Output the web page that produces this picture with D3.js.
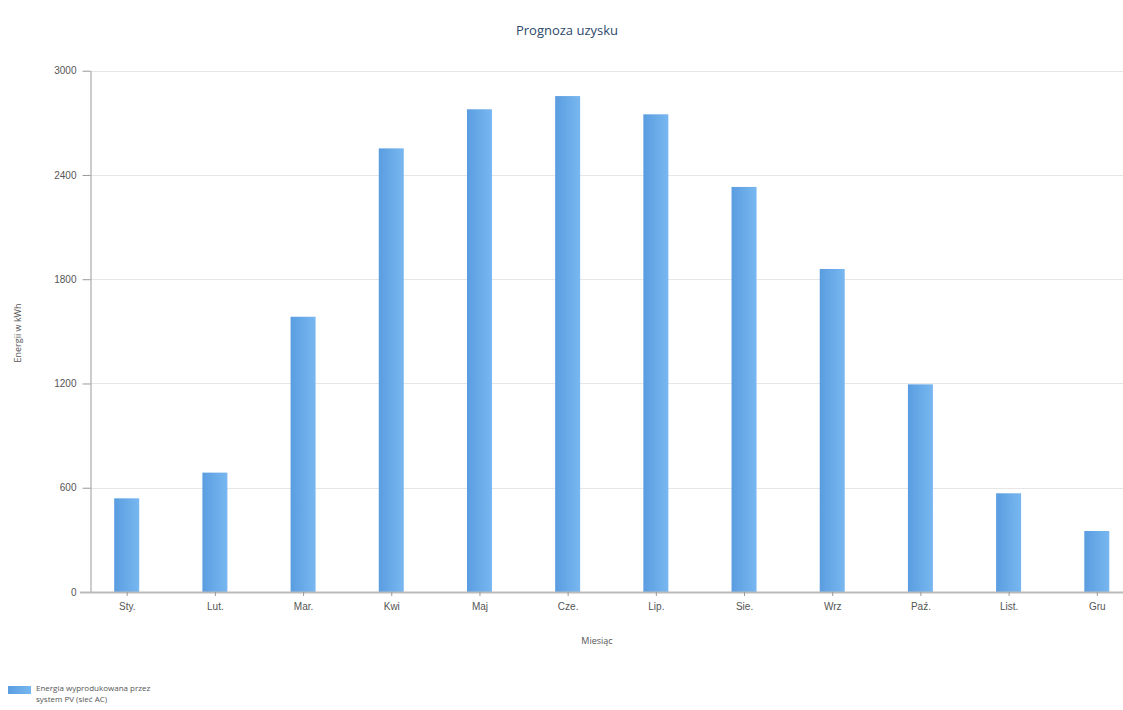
<!DOCTYPE html>
<html lang="pl">
<head>
<meta charset="UTF-8">
<title>Prognoza uzysku</title>
<style>
  * { margin: 0; padding: 0; }
  body { background: #fff; width: 1123px; height: 710px; overflow: hidden; font-family: "Open Sans", "DejaVu Sans", sans-serif; }
  svg { display: block; }
  .tick text { fill: #555; font-size: 10px; }
  .grid line { stroke: #e6e6e6; }
</style>
</head>
<body>
<svg id="chart" width="1123" height="710"></svg>
<script src="https://d3js.org/d3.v7.min.js"></script>
<script>
// Data
const months = ['Sty.', 'Lut.', 'Mar.', 'Kwi', 'Maj', 'Cze.', 'Lip.', 'Sie.', 'Wrz', 'Paź.', 'List.', 'Gru'];
const energy = [539, 687, 1584, 2553, 2778, 2854, 2749, 2331, 1859, 1195, 568, 351];
const yTicks = [0, 600, 1200, 1800, 2400, 3000];

const svg = d3.select('#chart');

// Layout
const axisX = 90.5, plotTop = 70.7, plotBottom = 592, plotRight = 1123;
const barW = 25;

const x = d3.scalePoint().domain(months).range([126.7, 1096.8]);
const y = d3.scaleLinear().domain([0, 3000]).range([plotBottom, plotTop]);

// gradient for bars (darker left, lighter right)
const grad = svg.append('defs').append('linearGradient')
  .attr('id', 'barGrad').attr('x1', '0%').attr('x2', '100%');
grad.append('stop').attr('offset', '0%').attr('stop-color', '#5a9de0');
grad.append('stop').attr('offset', '100%').attr('stop-color', '#78b7f0');

// Title
svg.append('text')
  .attr('x', 567).attr('y', 35)
  .attr('text-anchor', 'middle')
  .attr('font-size', 13).attr('fill', '#2b4a6b')
  .text('Prognoza uzysku');

// Gridlines
svg.append('g').attr('class', 'grid')
  .selectAll('line').data(yTicks.filter(t => t > 0)).join('line')
  .attr('x1', axisX).attr('x2', plotRight)
  .attr('y1', d => Math.round(y(d)) + 0.5).attr('y2', d => Math.round(y(d)) + 0.5);

// Bars
svg.append('g').selectAll('rect')
  .data(energy).join('rect')
  .attr('x', (d, i) => x(months[i]) - barW / 2)
  .attr('y', d => y(d))
  .attr('width', barW)
  .attr('height', d => plotBottom - y(d))
  .attr('fill', 'url(#barGrad)');

// Y axis
const yAxis = svg.append('g')
  .attr('transform', `translate(${axisX},0)`)
  .call(d3.axisLeft(y).tickValues(yTicks).tickFormat(d3.format('d'))
    .tickSize(8).tickPadding(6).tickSizeOuter(0));
yAxis.select('.domain').attr('stroke', '#999');
yAxis.selectAll('.tick line').attr('stroke', '#999');

// X axis
const xAxis = svg.append('g')
  .attr('transform', `translate(0,${plotBottom})`)
  .call(d3.axisBottom(x).tickSize(4).tickPadding(7).tickSizeOuter(0));
xAxis.select('.domain').attr('d', `M80,0.5H${plotRight}`).attr('stroke', '#bbb').attr('stroke-width', 2);
xAxis.selectAll('.tick line').attr('stroke', '#999');

// Axis titles
svg.append('text')
  .attr('transform', 'translate(21,333) rotate(-90)')
  .attr('text-anchor', 'middle')
  .attr('font-size', 9).attr('fill', '#555')
  .text('Energii w kWh');

svg.append('text')
  .attr('x', 597).attr('y', 644)
  .attr('text-anchor', 'middle')
  .attr('font-size', 9).attr('fill', '#555')
  .text('Miesiąc');

// Legend
const legend = svg.append('g').attr('transform', 'translate(8,686)');
legend.append('rect').attr('width', 23).attr('height', 8).attr('y', 0).attr('fill', 'url(#barGrad)');
legend.append('text').attr('x', 28).attr('y', 5).attr('font-size', 8).attr('fill', '#555')
  .text('Energia wyprodukowana przez');
legend.append('text').attr('x', 28).attr('y', 16).attr('font-size', 8).attr('fill', '#555')
  .text('system PV (sieć AC)');
</script>
</body>
</html>
